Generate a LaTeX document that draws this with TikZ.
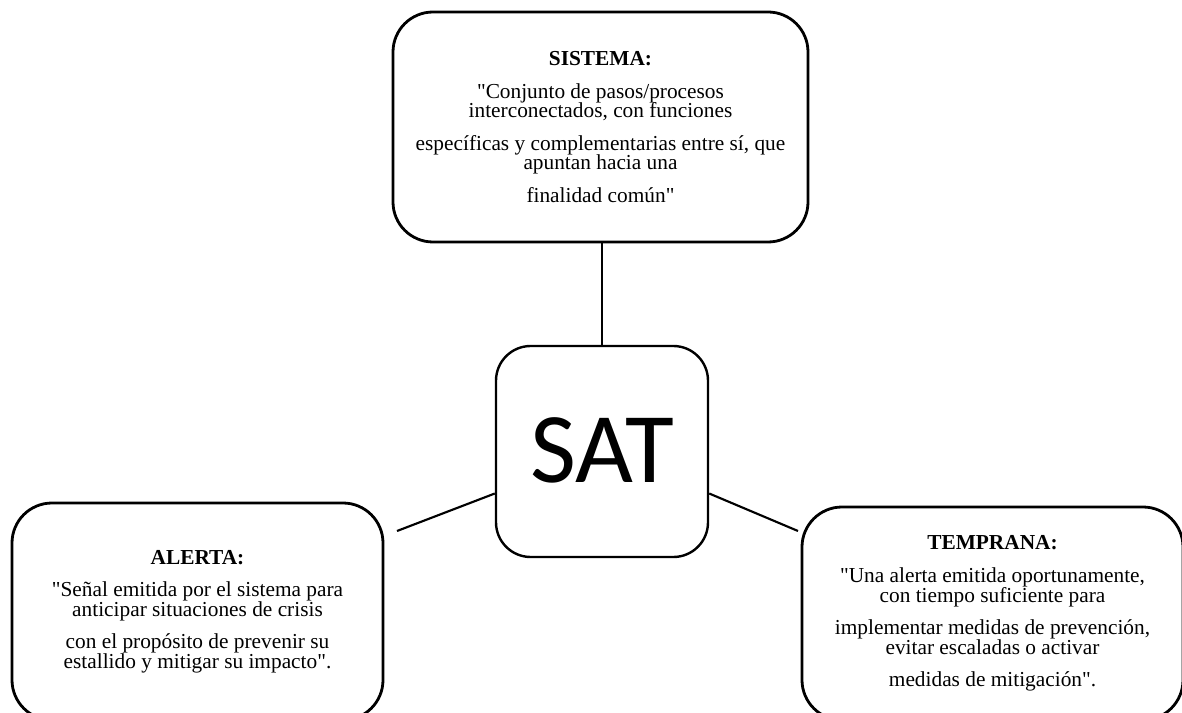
\documentclass[tikz,border=0pt]{standalone}
\usepackage{fontspec}
\setmainfont{Liberation Serif}
\newfontfamily\satfont{Carlito}
\newcommand{\qq}{\textquotedbl}
\begin{document}
\begin{tikzpicture}[x=0.75pt,y=-0.75pt,
  box/.style={draw,line width=2.1pt,rounded corners=30pt,align=center,inner sep=0pt,
    font=\fontsize{16}{14.8}\selectfont},
  satbox/.style={draw,line width=1.8pt,rounded corners=26pt,inner sep=0pt},
  link/.style={line width=1.6pt}]
\useasboundingbox (0,0) rectangle (1182,713);
\clip (0,0) rectangle (1182,713);
\node[box,minimum width=415*0.75pt,minimum height=230*0.75pt] (sis) at (600.5,127)
 {\textbf{SISTEMA:}\\[9.5pt]
  \qq Conjunto de pasos/procesos\\ interconectados, con funciones\\[9.5pt]
  específicas y complementarias entre sí, que\\ apuntan hacia una\\[9.5pt]
  finalidad común\qq};
\node[satbox,minimum width=212*0.75pt,minimum height=211*0.75pt] (sat) at (602,451.5)
 {\satfont\fontsize{75}{75}\selectfont\raisebox{1.5pt}{SAT}};
\node[box,minimum width=371*0.75pt,minimum height=217*0.75pt] (ale) at (197.5,611.5)
 {\textbf{ALERTA:}\\[9.5pt]
  \qq Señal emitida por el sistema para\\ anticipar situaciones de crisis\\[9.5pt]
  con el propósito de prevenir su\\ estallido y mitigar su impacto\qq.};
\node[box,minimum width=381*0.75pt,minimum height=213*0.75pt] (tem) at (992.5,613.5)
 {\textbf{TEMPRANA:}\\[9.5pt]
  \qq Una alerta emitida oportunamente,\\ con tiempo suficiente para\\[9.5pt]
  implementar medidas de prevención,\\ evitar escaladas o activar\\[9.5pt]
  medidas de mitigación\qq.};
\coordinate (aend) at (397,531);
\coordinate (tend) at (798,531);
\draw[link] (sat.north) -- (sat.north |- sis.south);
\draw[link] ([yshift=-31.5pt]sat.west) -- (aend);
\draw[link] ([yshift=-31.5pt]sat.east) -- (tend);
\end{tikzpicture}
\end{document}
